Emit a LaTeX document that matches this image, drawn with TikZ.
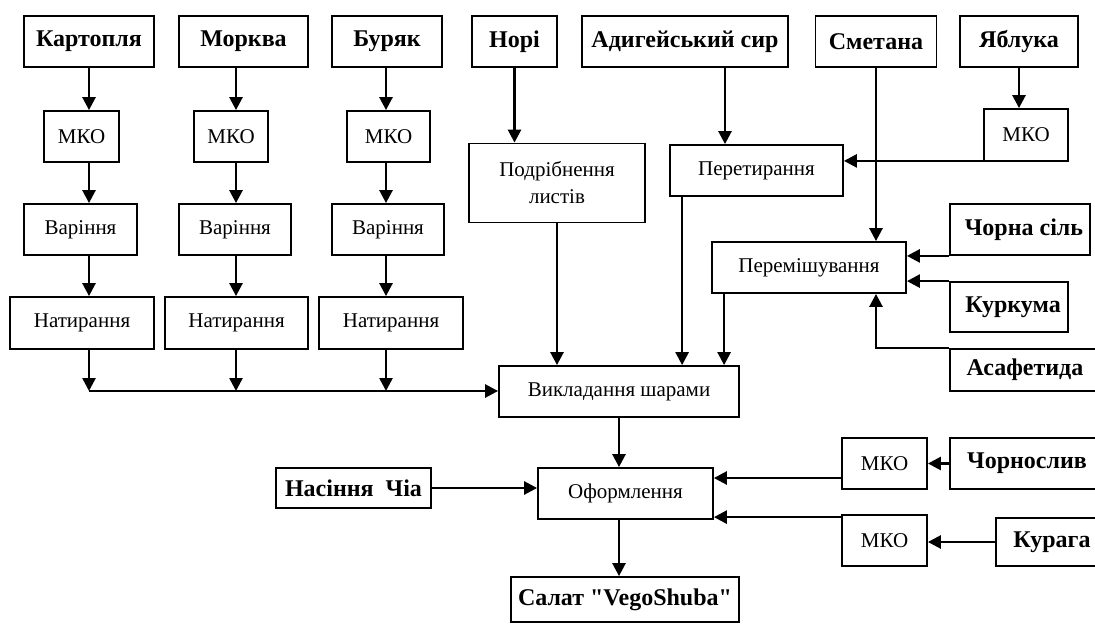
\documentclass[tikz,border=0pt]{standalone}
\usepackage{fontspec}
\setmainfont{Liberation Serif}[Ligatures=TeXOff]
\usepackage{tikz}
\usetikzlibrary{calc,positioning,arrows.meta}
\tikzstyle{line} = [line width=2.6pt]
\tikzstyle{line>} = [line,-{Triangle[length=13pt,width=13pt]}]
\tikzstyle{box} = [draw,line width=1.8pt,inner sep=0pt,minimum height=51pt,font=\fontsize{21}{25}\selectfont]
\tikzstyle{box bold} = [box,font=\bfseries\fontsize{24}{28}\selectfont]

\begin{document}
\begin{tikzpicture}[x=1pt,y=-1pt]
        % page frame
        \path[use as bounding box,clip] (0,0) rectangle (1095,624);
        \fill[white] (0,0) rectangle (1095,624);

        % draw ingredient boxes
        \node[box bold,minimum width=130pt] (kart) at (89,41.5) {Картопля};
        \node[box bold,minimum width=129pt] (mork) at (243.5,41.5) {Морква};
        \node[box bold,minimum width=110pt] (bur) at (387,41.5) {Буряк};
        \node[box bold,minimum width=85pt] (nori) at (514.5,41.5) {Норі};
        \node[box bold,minimum width=206pt] (adyg) at (685,41.5) {Адигейський сир};
        \node[box bold,minimum width=121pt] (smet) at (876,41.5) {Сметана};
        \node[box bold,minimum width=118pt] (yabl) at (1019,41.5) {Яблука};

        % draw vegetable columns
        \node[box,minimum width=75pt] (mko1) at (81.5,136.5) {МКО};
        \node[box,minimum width=74pt] (mko2) at (231,136.5) {МКО};
        \node[box,minimum width=83pt] (mko3) at (388.5,136.5) {МКО};
        \node[box,minimum width=113pt] (var1) at (80.5,229.5) {Варіння};
        \node[box,minimum width=112pt] (var2) at (235,229.5) {Варіння};
        \node[box,minimum width=112pt] (var3) at (388,229.5) {Варіння};
        \node[box,minimum width=144pt,minimum height=52pt] (nat1) at (82,323) {Натирання};
        \node[box,minimum width=143pt,minimum height=52pt] (nat2) at (236.5,323) {Натирання};
        \node[box,minimum width=144pt,minimum height=52pt] (nat3) at (391,323) {Натирання};
        \coordinate (c1) at (89,391);
        \coordinate (c2) at (236,391);
        \coordinate (c3) at (386,391);

        % draw middle steps
        \node[box,minimum width=176pt,minimum height=79pt,align=center] (podr) at (557,183) {Подрібнення\\[2pt]листів};
        \node[box,minimum width=173pt] (peret) at (756.5,170.5) {Перетирання\hspace{14pt}};
        \node[box,minimum width=84pt,minimum height=52pt] (mko7) at (1026,135) {МКО};
        \node[box,minimum width=194pt] (perem) at (809,267.5) {Перемішування\hspace{14pt}};
        \node[box bold,minimum width=140pt] (chsil) at (1020,229.5) {\hspace{8pt}Чорна сіль};
        \node[box bold,minimum width=118pt,minimum height=50pt] (kurk) at (1009,307) {\hspace{8pt}Куркума};
        \node[box bold,minimum width=150pt,minimum height=42pt] (asaf) at (1025,370) {Асафетида};
        \node[box,minimum width=240pt] (vykl) at (619,391.5) {Викладання шарами\hspace{18pt}};

        % draw bottom steps
        \node[box,minimum width=175pt] (oform) at (625.5,493.5) {Оформлення\hspace{22pt}};
        \node[box bold,minimum width=155pt,minimum height=40pt] (nasin) at (353.5,488) {Насіння\ \ Чіа};
        \node[box,minimum width=85pt] (mko8) at (884.5,463.5) {МКО};
        \node[box bold,minimum width=154pt] (chsl) at (1027,463.5) {Чорнослив};
        \node[box,minimum width=85pt] (mko9) at (884.5,540.5) {МКО};
        \node[box bold,minimum width=112pt,minimum height=48pt] (kurag) at (1052,542) {Курага};
        \node[box bold,minimum width=228pt,minimum height=45pt] (salat) at (625,599.5) {Салат "VegoShuba"};

        % arrows of vegetable columns
        \foreach \s/\i in {kart/1,mork/2,bur/3} {
        	\draw[line>] (\s.south -| c\i) -- (mko\i.north -| c\i);
        	\draw[line>] (mko\i.south -| c\i) -- (var\i.north -| c\i);
        	\draw[line>] (var\i.south -| c\i) -- (nat\i.north -| c\i);
        	\draw[line>] (nat\i.south -| c\i) -- (c\i);
        }
        \draw[line>] (c1) -- (vykl.west |- c1);

        % arrows of middle part
        \draw[line>] (nori.south) -- (nori.south |- podr.north);
        \draw[line>] (podr.south) -- (podr.south |- vykl.north);
        \draw[line>] ([xshift=40pt]adyg.south) -- ([xshift=40pt]adyg.south |- peret.north);
        \draw[line>] ([xshift=13pt]peret.south west) -- ([xshift=13pt]peret.south west |- vykl.north);
        \draw[line>] (yabl.south) -- (yabl.south |- mko7.north);
        \draw[line>] ([yshift=1pt]mko7.south west) -- ([yshift=1pt]mko7.south west -| peret.east);
        \draw[line>] (smet.south) -- (smet.south |- perem.north);
        \draw[line>] (chsil.south west) -- (chsil.south west -| perem.east);
        \draw[line>] (kurk.north west) -- (kurk.north west -| perem.east);
        \draw[line>] (asaf.north west) -| (smet.south |- perem.south);
        \draw[line>] ([xshift=13pt]perem.south west) -- ([xshift=13pt]perem.south west |- vykl.north);

        % arrows of bottom part
        \draw[line>] (vykl.south) -- (vykl.south |- oform.north);
        \draw[line>] (nasin.east) -- (nasin.east -| oform.west);
        \draw[line>] (chsl.west) -- (chsl.west -| mko8.east);
        \draw[line>] ([yshift=-14.5pt]mko8.west) -- ([yshift=-14.5pt]mko8.west -| oform.east);
        \draw[line>] (kurag.west) -- (kurag.west -| mko9.east);
        \draw[line>] ([yshift=-3pt]mko9.north west) -- ([yshift=-3pt]mko9.north west -| oform.east);
        \draw[line>] (oform.south -| vykl.south) -- (salat.north -| vykl.south);
\end{tikzpicture}
\end{document}
